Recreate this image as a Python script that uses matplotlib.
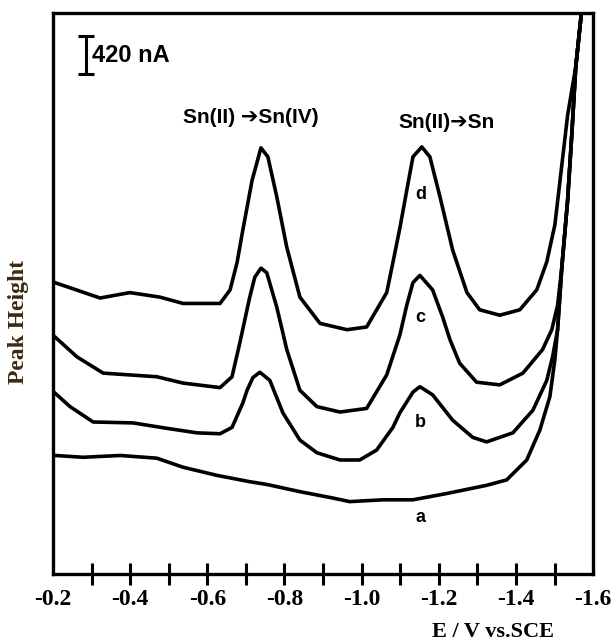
import matplotlib.pyplot as plt

# potential (V vs. SCE) and current (uA)
# steep cathodic rise shared by all curves at the end of the window
rise_E = [-1.519, -1.534, -1.545, -1.555, -1.570]
rise_I = [3.39, 4.13, 4.87, 5.60, 6.21]

# a - blank
a_E = [-0.205, -0.278, -0.374, -0.469, -0.537, -0.625, -0.710, -0.754, -0.840,
       -0.925, -0.969, -1.055, -1.133, -1.221, -1.324, -1.376, -1.428, -1.462,
       -1.488, -1.501, -1.508]
a_I = [1.31, 1.29, 1.31, 1.28, 1.18, 1.09, 1.02, 0.99, 0.91,
       0.84, 0.80, 0.82, 0.82, 0.89, 0.98, 1.04, 1.26, 1.59,
       1.96, 2.37, 2.70]

# b
b_E = [-0.205, -0.244, -0.304, -0.407, -0.495, -0.573, -0.633, -0.664, -0.692,
       -0.703, -0.718, -0.736, -0.762, -0.796, -0.840, -0.884, -0.944, -0.995,
       -1.039, -1.081, -1.099, -1.133, -1.151, -1.184, -1.236, -1.288, -1.324,
       -1.392, -1.444, -1.480, -1.495, -1.508]
b_I = [2.00, 1.85, 1.68, 1.67, 1.61, 1.56, 1.55, 1.62, 1.89,
       2.03, 2.17, 2.23, 2.14, 1.78, 1.48, 1.34, 1.26, 1.26,
       1.37, 1.62, 1.78, 2.01, 2.07, 1.98, 1.70, 1.51, 1.46,
       1.56, 1.81, 2.14, 2.40, 2.70]

# c
c_E = [-0.205, -0.262, -0.330, -0.469, -0.537, -0.633, -0.664, -0.684, -0.710,
       -0.723, -0.739, -0.754, -0.780, -0.806, -0.840, -0.884, -0.944, -1.013,
       -1.065, -1.099, -1.117, -1.133, -1.151, -1.184, -1.210, -1.229, -1.254,
       -1.298, -1.358, -1.418, -1.469, -1.493, -1.508]
c_I = [2.62, 2.40, 2.22, 2.18, 2.11, 2.06, 2.18, 2.55, 3.06,
       3.28, 3.38, 3.33, 2.95, 2.48, 2.03, 1.85, 1.79, 1.83,
       2.20, 2.64, 2.97, 3.22, 3.30, 3.14, 2.84, 2.59, 2.33,
       2.12, 2.09, 2.22, 2.48, 2.70, 2.97]

# d
d_E = [-0.205, -0.322, -0.399, -0.477, -0.537, -0.633, -0.659, -0.677, -0.692,
       -0.716, -0.739, -0.757, -0.780, -0.806, -0.840, -0.892, -0.962, -1.013,
       -1.065, -1.081, -1.099, -1.117, -1.133, -1.156, -1.177, -1.203, -1.236,
       -1.273, -1.306, -1.358, -1.410, -1.454, -1.480, -1.501, -1.519, -1.534,
       -1.547]
d_I = [3.22, 3.05, 3.11, 3.06, 2.99, 2.99, 3.14, 3.44, 3.80,
       4.35, 4.71, 4.61, 4.17, 3.61, 3.06, 2.77, 2.70, 2.73,
       3.11, 3.44, 3.82, 4.24, 4.61, 4.72, 4.61, 4.17, 3.58,
       3.11, 2.92, 2.86, 2.92, 3.14, 3.45, 3.86, 4.52, 5.07,
       5.40]

tick_pos = [-0.2, -0.4, -0.6, -0.8, -1.0, -1.2, -1.4, -1.6]
tick_labels = ['-0.2', '-0.4', '-0.6', '-0.8', '-1.0', '-1.2', '-1.4', '-1.6']
mark_pos = [-0.3, -0.4, -0.5, -0.6, -0.7, -0.8, -0.9, -1.0, -1.1, -1.2,
            -1.3, -1.4, -1.5]

scale_bar = 0.42  # uA, i.e. 420 nA

serif = ['Liberation Serif', 'DejaVu Serif']
sans = ['Liberation Sans', 'DejaVu Sans']

fig = plt.figure(figsize=(6.13, 6.43), dpi=100)
ax = fig.add_axes([0.0865, 0.1073, 0.881, 0.8725])

lw = 2.6
ax.plot(a_E + rise_E, a_I + rise_I, color='black', lw=lw, solid_joinstyle='round')
ax.plot(b_E + rise_E, b_I + rise_I, color='black', lw=lw, solid_joinstyle='round')
ax.plot(c_E + rise_E, c_I + rise_I, color='black', lw=lw, solid_joinstyle='round')
ax.plot(d_E + rise_E[-2:], d_I + rise_I[-2:], color='black', lw=lw, solid_joinstyle='round')

# scale bar
ax.errorbar([-0.285], [5.74], yerr=scale_bar / 2, fmt='none', ecolor='black',
            elinewidth=2.2, capsize=6, capthick=2.2)
ax.text(-0.302, 5.73, '420 nA', ha='left', va='center', fontsize=17,
        fontweight='bold', family=sans)

ax.text(-0.713, 5.04, 'Sn(II) \u2794Sn(IV)', ha='center', va='center',
        fontsize=15, fontweight='bold', family=sans)
ax.text(-1.221, 4.99, 'Sn(II)\u2794Sn', ha='center', va='center',
        fontsize=15, fontweight='bold', family=sans)

for lab, yy in zip(['d', 'c', 'b', 'a'], [4.19, 2.83, 1.67, 0.62]):
    ax.text(-1.153, yy, lab, ha='center', va='center', fontsize=13,
            fontweight='bold', family=sans)

ax.set_xlim(-0.2, -1.6)
ax.set_ylim(0, 6.2)

ax.xaxis.remove_overlapping_locs = False
ax.set_xticks(tick_pos, labels=tick_labels, family=serif, fontweight='bold')
ax.set_xticks(mark_pos, minor=True)
ax.tick_params(axis='x', which='major', length=0, pad=11, labelsize=17)
ax.tick_params(axis='x', which='minor', direction='inout', length=16, width=2.2)
ax.set_yticks([])

for sp in ax.spines.values():
    sp.set_linewidth(2.4)

ax.set_xlabel('E / V vs.SCE', family=serif, fontweight='bold', fontsize=16)
ax.xaxis.set_label_coords(0.815, -0.085)
ax.set_ylabel('Peak Height', family=serif, fontweight='bold', fontsize=17,
              color='#3a2a12')
ax.yaxis.set_label_coords(-0.045, 0.45)

fig.savefig('out.png', dpi=100)
